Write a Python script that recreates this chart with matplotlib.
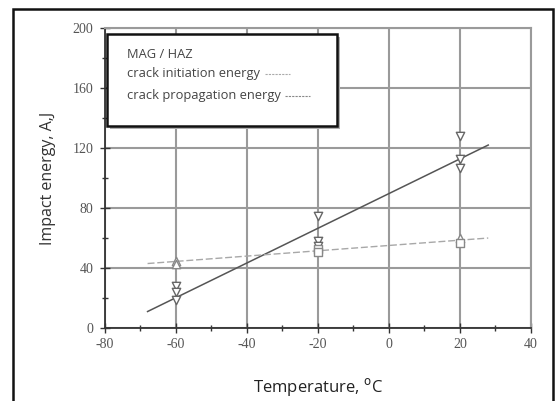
#!/usr/bin/env python3
"""Impact energy vs temperature, MAG / HAZ (crack initiation / propagation)."""
import matplotlib

matplotlib.use("Agg")
import matplotlib.pyplot as plt
from matplotlib.patches import Rectangle
from matplotlib.ticker import MultipleLocator

plt.rcParams["axes.unicode_minus"] = False

# crack propagation energy (open down triangles)
prop_temp = [-60, -60, -60, -20, -20, -20, 20, 20, 20]
prop_energy = [28, 24, 19, 75, 58, 55, 128, 113, 107]

# crack initiation energy (open up triangles / squares)
init_tri_temp = [-60, -60, 20]
init_tri_energy = [45, 43, 60]
init_sq_temp = [-20, -20, 20]
init_sq_energy = [53, 51, 57]

# fitted trend lines (end points)
prop_fit_temp = [-68, 28]
prop_fit_energy = [11, 122]
init_fit_temp = [-68, 28]
init_fit_energy = [43, 60]

GRID = "#9a9a9a"
TICKC = "#555555"

fig = plt.figure(figsize=(5.57, 4.01), dpi=100)
ax = fig.add_axes([0.1885, 0.182, 0.7645, 0.748])

ax.plot(prop_fit_temp, prop_fit_energy, color="#555555", lw=1.1, zorder=3)
ax.plot(init_fit_temp, init_fit_energy, color="#a8a8a8", lw=1.0,
        dashes=(5, 2), zorder=3)

ax.scatter(prop_temp, prop_energy, marker="v", s=36, facecolors="white",
           edgecolors="#666666", linewidths=1.0, zorder=4)
ax.scatter(init_tri_temp, init_tri_energy, marker="^", s=36, facecolors="white",
           edgecolors="#888888", linewidths=1.0, zorder=4)
ax.scatter(init_sq_temp, init_sq_energy, marker="s", s=26, facecolors="white",
           edgecolors="#888888", linewidths=1.0, zorder=4)

ax.set_xlim(-80, 40)
ax.set_ylim(0, 200)
ax.xaxis.set_major_locator(MultipleLocator(20))
ax.xaxis.set_minor_locator(MultipleLocator(10))
ax.yaxis.set_major_locator(MultipleLocator(40))
ax.yaxis.set_minor_locator(MultipleLocator(20))
ax.grid(which="major", color=GRID, lw=1.5)
ax.set_axisbelow(True)

for side in ("top", "right"):
    ax.spines[side].set_color(GRID)
    ax.spines[side].set_linewidth(1.5)
for side in ("left", "bottom"):
    ax.spines[side].set_color("#333333")
    ax.spines[side].set_linewidth(1.3)

ax.tick_params(which="major", direction="inout", length=7, width=1.0,
               color="#333333", labelcolor=TICKC, labelsize=10)
ax.tick_params(axis="y", which="major", pad=5)
ax.tick_params(axis="x", which="major", pad=4)
ax.tick_params(which="minor", direction="inout", length=5, width=1.0,
               color="#333333")
for lab in ax.get_xticklabels() + ax.get_yticklabels():
    lab.set_family("Liberation Serif")

ax.set_xlabel("Temperature, $^{\\mathrm{o}}$C", fontsize=12, family="Open Sans",
              color="#222222", labelpad=18)
ax.set_ylabel("Impact energy, A,J", fontsize=11.5, family="Open Sans",
              color="#333333", labelpad=12)

# legend box with drop shadow
shadow = Rectangle((110 / 557, 1 - 129 / 401), 230 / 557, 92 / 401,
                   transform=fig.transFigure, facecolor="#b0b0b0",
                   edgecolor="none", zorder=5)
box = Rectangle((107 / 557, 1 - 126 / 401), 230 / 557, 92 / 401,
                transform=fig.transFigure, facecolor="white",
                edgecolor="#111111", lw=1.8, zorder=6)
fig.patches.extend([shadow, box])

leg_font = dict(family="Open Sans", fontsize=9.3, color="#444444",
                va="center", ha="left", zorder=7)
fig.text(127 / 557, 1 - 54 / 401, "MAG / HAZ", **leg_font)
fig.text(127 / 557, 1 - 74 / 401, "crack initiation energy", **leg_font)
fig.text(127 / 557, 1 - 96 / 401, "crack propagation energy", **leg_font)
fig.add_artist(plt.Line2D([265 / 557, 290 / 557], [1 - 74 / 401] * 2,
                          transform=fig.transFigure, color="#aaaaaa",
                          lw=0.8, dashes=(2, 1), zorder=7))
fig.add_artist(plt.Line2D([285 / 557, 310 / 557], [1 - 96 / 401] * 2,
                          transform=fig.transFigure, color="#888888",
                          lw=0.8, dashes=(2, 1), zorder=7))

# outer frame
fig.patches.append(Rectangle((13 / 557, -0.05), 540 / 557, 1.05 - 9 / 401,
                             transform=fig.transFigure, facecolor="none",
                             edgecolor="#111111", lw=1.8, zorder=8))

fig.savefig("out.png", dpi=100)
